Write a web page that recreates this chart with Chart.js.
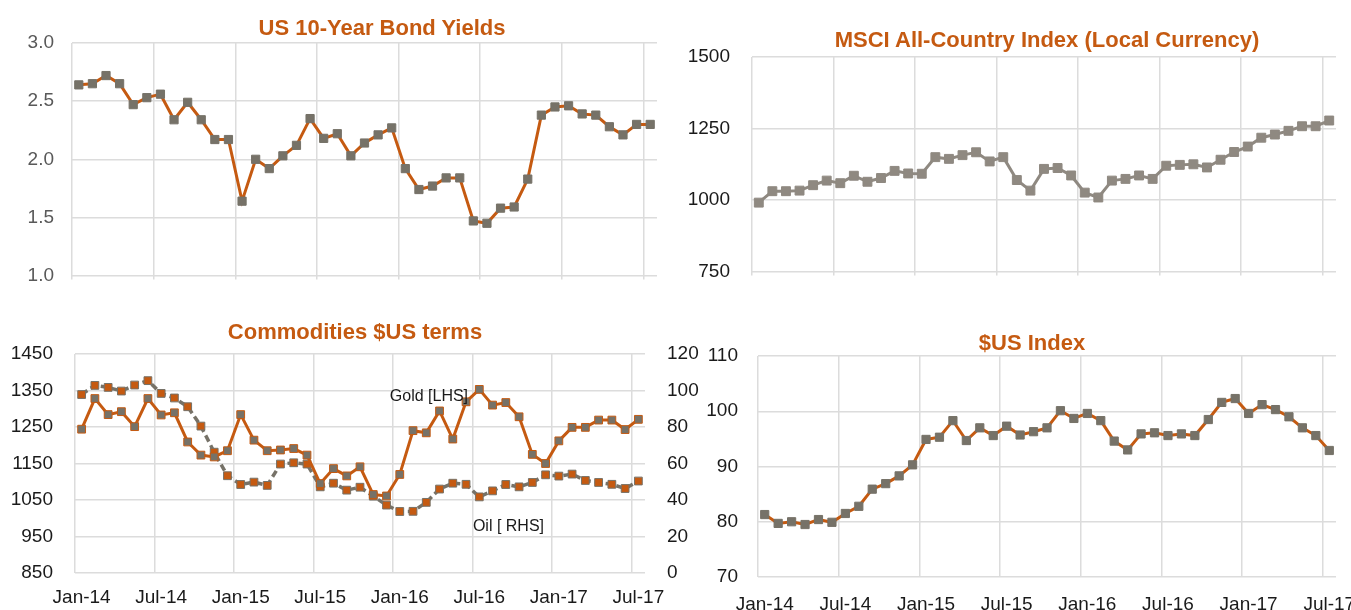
<!DOCTYPE html>
<html>
<head>
<meta charset="utf-8">
<script src="https://cdn.jsdelivr.net/npm/chart.js@4.4.1/dist/chart.umd.min.js"></script>
<style>
html,body{margin:0;padding:0;background:#ffffff;width:1351px;height:610px;overflow:hidden;}
.box{position:absolute;}
.ttl{position:absolute;font-family:"Liberation Sans",Arial,sans-serif;font-weight:bold;color:#C55A11;font-size:22px;white-space:nowrap;transform:translate(-50%,-50%);line-height:1;}
</style>
</head>
<body>
<div class="box" id="bA" style="left:0px;top:0px;width:668px;height:305px;"><canvas id="cA" width="668" height="305"></canvas></div>
<div class="box" id="bB" style="left:668px;top:0px;width:683px;height:305px;"><canvas id="cB" width="683" height="305"></canvas></div>
<div class="box" id="bC" style="left:0px;top:305px;width:700px;height:305px;"><canvas id="cC" width="700" height="305"></canvas></div>
<div class="box" id="bD" style="left:700px;top:305px;width:651px;height:305px;"><canvas id="cD" width="651" height="305"></canvas></div>
<div class="ttl" style="left:382px;top:28px;">US 10-Year Bond Yields</div>
<div class="ttl" style="left:1047px;top:40px;">MSCI All-Country Index (Local Currency)</div>
<div class="ttl" style="left:355px;top:332px;">Commodities $US terms</div>
<div class="ttl" style="left:1032px;top:343px;">$US Index</div>
<script>
// ---- data ----
const months = ['Jan-14','Feb-14','Mar-14','Apr-14','May-14','Jun-14','Jul-14','Aug-14','Sep-14','Oct-14','Nov-14','Dec-14',
  'Jan-15','Feb-15','Mar-15','Apr-15','May-15','Jun-15','Jul-15','Aug-15','Sep-15','Oct-15','Nov-15','Dec-15',
  'Jan-16','Feb-16','Mar-16','Apr-16','May-16','Jun-16','Jul-16','Aug-16','Sep-16','Oct-16','Nov-16','Dec-16',
  'Jan-17','Feb-17','Mar-17','Apr-17','May-17','Jun-17','Jul-17'];
const bondYields = [2.64,2.65,2.72,2.65,2.47,2.53,2.56,2.34,2.49,2.34,2.17,2.17,
  1.64,2.00,1.92,2.03,2.12,2.35,2.18,2.22,2.03,2.14,2.21,2.27,
  1.92,1.74,1.77,1.84,1.84,1.47,1.45,1.58,1.59,1.83,2.38,2.45,
  2.46,2.39,2.38,2.28,2.21,2.30,2.30];
const msci = [991,1031,1031,1033,1052,1068,1059,1085,1064,1077,1102,1093,
  1092,1150,1144,1157,1167,1135,1150,1070,1033,1109,1112,1086,
  1026,1009,1068,1074,1086,1074,1120,1123,1125,1114,1141,1168,
  1187,1218,1229,1242,1258,1258,1278];
const gold = [1244,1328,1284,1292,1251,1328,1283,1289,1209,1173,1168,1185,
  1284,1214,1185,1187,1191,1173,1095,1136,1116,1141,1065,1061,
  1120,1240,1234,1294,1217,1319,1353,1310,1317,1278,1175,1150,
  1212,1249,1249,1269,1269,1243,1271];
const oil = [97.8,102.8,101.7,99.7,103.0,105.4,98.4,95.9,91.1,80.5,66.2,53.3,
  48.5,49.8,48.0,59.7,60.4,59.7,47.2,49.2,45.4,47.0,42.1,37.2,
  33.7,33.8,38.7,46.0,49.2,48.6,41.7,45.0,48.5,47.2,49.6,53.8,
  53.1,54.2,50.7,49.6,48.6,46.3,50.4];
const usdIndex = [81.3,79.7,80.0,79.5,80.4,79.9,81.5,82.8,85.9,86.9,88.3,90.3,
  94.9,95.3,98.3,94.7,97.0,95.6,97.3,95.7,96.3,97.0,100.1,98.7,
  99.6,98.3,94.6,93.0,95.9,96.1,95.6,95.9,95.6,98.5,101.6,102.3,
  99.6,101.2,100.3,99.0,97.0,95.6,92.9];
// annotation labels in the commodities panel (text, month index position, value, axis)
const noteTexts = ['Gold [LHS]', 'Oil [ RHS]'];
const noteIndex = [26.2, 32.2];
const noteValues = [1332, 25.2];
const noteAxes = ['y', 'y2'];

// ---- styles ----
const ORANGE = '#C55A11';
const MARK = '#767268';
const MSCI_GRAY = '#8f8981';
const GRID = '#dcdcdc';
const FONT = "'Liberation Sans',Arial,sans-serif";
const TICK_SIZE = 19;

Chart.defaults.font.family = FONT;
Chart.defaults.animation = false;

function xAxis(showLabels, height, tickLen, pad) {
  return {
    type: 'category',
    offset: true,
    border: {display: false},
    grid: {
      offset: true,
      color: ctx => (ctx.index !== undefined && ctx.index % 6 === 0) ? GRID : 'rgba(0,0,0,0)',
      lineWidth: 1.5,
      drawTicks: tickLen > 0,
      tickLength: tickLen
    },
    ticks: {
      display: showLabels,
      autoSkip: false,
      maxRotation: 0,
      minRotation: 0,
      padding: pad || 6,
      color: '#1a1a1a',
      font: {size: TICK_SIZE},
      callback: (v, i) => (i % 6 === 0 ? months[i] : '')
    },
    afterFit: s => { s.height = height; s.paddingLeft = 0; s.paddingRight = 0; }
  };
}
function yAxis(min, max, step, width, pad, color, fmt, pos) {
  return {
    type: 'linear',
    position: pos || 'left',
    min: min, max: max,
    border: {display: false},
    grid: {color: GRID, lineWidth: 1.5, drawTicks: false},
    ticks: {
      stepSize: step,
      padding: pad,
      color: color,
      font: {size: TICK_SIZE},
      callback: fmt || (v => String(v))
    },
    afterFit: s => { s.width = width; }
  };
}
function lineDs(data, lineColor, markFill, markBorder, extra) {
  return Object.assign({
    data: data,
    borderColor: lineColor,
    borderWidth: 3,
    pointStyle: 'rect',
    pointRadius: 5.8,
    pointBorderWidth: 1,
    pointBackgroundColor: markFill,
    pointBorderColor: markBorder,
    tension: 0,
    fill: false
  }, extra || {});
}
const baseOpts = {
  responsive: false,
  animation: false,
  plugins: {legend: {display: false}, tooltip: {enabled: false}, title: {display: false}}
};

// A: US 10-year bond yields
new Chart(document.getElementById('cA'), {
  type: 'line',
  data: {labels: months, datasets: [lineDs(bondYields, ORANGE, MARK, MARK)]},
  options: Object.assign({}, baseOpts, {
    layout: {padding: {top: 43, left: 0, right: 11, bottom: 0}},
    scales: {
      x: xAxis(false, 15, 4),
      y: yAxis(1, 3, 0.5, 72, 18, '#595959', v => v.toFixed(1))
    }
  })
});

// B: MSCI
new Chart(document.getElementById('cB'), {
  type: 'line',
  data: {labels: months, datasets: [lineDs(msci, MSCI_GRAY, MSCI_GRAY, MSCI_GRAY, {pointRadius: 6.3})]},
  options: Object.assign({}, baseOpts, {
    layout: {padding: {top: 57, left: 0, right: 15, bottom: 0}},
    scales: {
      x: xAxis(false, 15, 4),
      y: yAxis(750, 1500, 250, 84, 22, '#1a1a1a')
    }
  })
});

// C: Commodities
const notePlugin = {
  id: 'notes',
  afterDatasetsDraw(chart) {
    const ctx = chart.ctx;
    ctx.save();
    ctx.font = '16px ' + FONT;
    ctx.fillStyle = '#1a1a1a';
    ctx.textAlign = 'center';
    ctx.textBaseline = 'middle';
    noteTexts.forEach((t, k) => {
      const x = chart.scales.x.getPixelForValue(noteIndex[k]);
      const y = chart.scales[noteAxes[k]].getPixelForValue(noteValues[k]);
      ctx.fillText(t, x, y);
    });
    ctx.restore();
  }
};
const y2 = yAxis(0, 120, 20, 55, 22, '#1a1a1a', null, 'right');
y2.grid = {display: false, drawTicks: false};
new Chart(document.getElementById('cC'), {
  type: 'line',
  data: {labels: months, datasets: [
    lineDs(gold, ORANGE, MARK, ORANGE, {yAxisID: 'y', pointRadius: 5.5}),
    lineDs(oil, MARK, ORANGE, MARK, {yAxisID: 'y2', borderDash: [7, 4], borderWidth: 3.5, pointRadius: 5.5})
  ]},
  options: Object.assign({}, baseOpts, {
    layout: {padding: {top: 49, left: 0, right: 0, bottom: 0}},
    scales: {
      x: xAxis(true, 37, 0, 13),
      y: yAxis(850, 1450, 100, 75, 22, '#1a1a1a'),
      y2: y2
    }
  }),
  plugins: [notePlugin]
});

// D: $US Index
new Chart(document.getElementById('cD'), {
  type: 'line',
  data: {labels: months, datasets: [lineDs(usdIndex, ORANGE, MARK, MARK)]},
  options: Object.assign({}, baseOpts, {
    layout: {padding: {top: 51, left: 0, right: 15, bottom: 0}},
    scales: {
      x: xAxis(true, 33, 0, 16),
      y: yAxis(70, 110, 10, 58, 20, '#1a1a1a')
    }
  })
});
</script>
</body>
</html>
